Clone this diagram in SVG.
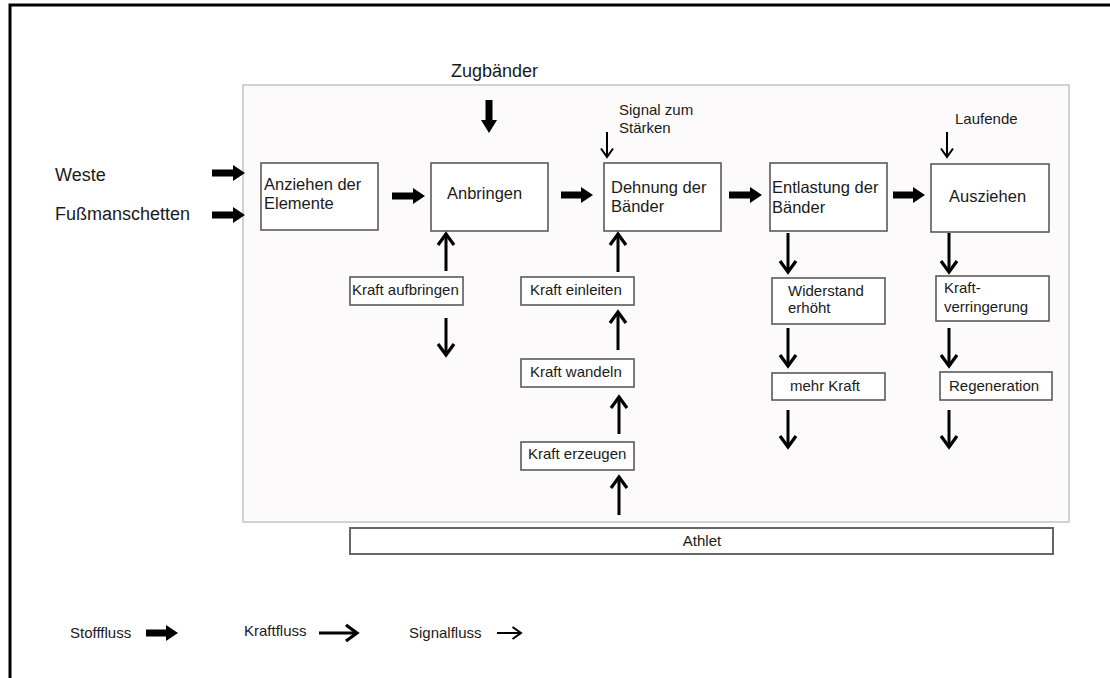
<svg xmlns="http://www.w3.org/2000/svg" width="1110" height="678" viewBox="0 0 1110 678">
<style>
text{font-family:"Liberation Sans",Arial,sans-serif;fill:#1a1a1a}
.big{font-size:18px}
.main{font-size:16.5px}
.sub{font-size:15px}
.box{fill:#fff;stroke:#5a5a5a;stroke-width:1.6}
.stoff{fill:#000}
.kraft{stroke:#000;stroke-width:3;fill:none;marker-end:url(#mk)}
.sig{stroke:#000;stroke-width:2;fill:none;marker-end:url(#ms)}
</style>
<defs>
<marker id="mk" markerUnits="userSpaceOnUse" markerWidth="16" markerHeight="20" viewBox="0 0 16 20" refX="13" refY="10" orient="auto">
<path d="M2,2 L13,10 L2,18" fill="none" stroke="#000" stroke-width="3.2"/>
</marker>
<marker id="ms" markerUnits="userSpaceOnUse" markerWidth="12" markerHeight="16" viewBox="0 0 12 16" refX="10" refY="8" orient="auto">
<path d="M1.5,2 L10,8 L1.5,14" fill="none" stroke="#000" stroke-width="2"/>
</marker>
</defs>
<rect width="1110" height="678" fill="#fff"/>
<path d="M10,678 V5 H1110" fill="none" stroke="#000" stroke-width="3"/>
<rect id="system" x="243" y="85" width="826" height="437" fill="#fcfafa" stroke="#c4c4c4" stroke-width="1.5"/>

<g id="labels">
<text class="big" x="451" y="77">Zugbänder</text>
<text class="big" x="55" y="181">Weste</text>
<text class="big" x="55" y="220">Fußmanschetten</text>
<text class="sub" x="619" y="115">Signal zum</text>
<text class="sub" x="619" y="133">Stärken</text>
<text class="sub" x="955" y="124">Laufende</text>
</g>

<g id="n-anziehen"><rect class="box" x="261" y="163" width="117" height="67"/><text class="main" x="264" y="190">Anziehen der</text><text class="main" x="264" y="209">Elemente</text></g>
<g id="n-anbringen"><rect class="box" x="431" y="163" width="117" height="68"/><text class="main" x="447" y="199">Anbringen</text></g>
<g id="n-dehnung"><rect class="box" x="604" y="163" width="117" height="68"/><text class="main" x="611" y="193">Dehnung der</text><text class="main" x="611" y="212">Bänder</text></g>
<g id="n-entlastung"><rect class="box" x="770" y="163" width="117" height="68"/><text class="main" x="772" y="193">Entlastung der</text><text class="main" x="772" y="213">Bänder</text></g>
<g id="n-ausziehen"><rect class="box" x="931" y="164" width="118" height="68"/><text class="main" x="949" y="202">Ausziehen</text></g>

<g id="n-aufbringen"><rect class="box" x="350" y="277" width="113" height="28"/><text class="sub" x="352" y="295">Kraft aufbringen</text></g>
<g id="n-einleiten"><rect class="box" x="521" y="277" width="113" height="28"/><text class="sub" x="530" y="295">Kraft einleiten</text></g>
<g id="n-wandeln"><rect class="box" x="521" y="359" width="113" height="28"/><text class="sub" x="530" y="377">Kraft wandeln</text></g>
<g id="n-erzeugen"><rect class="box" x="521" y="442" width="113" height="28"/><text class="sub" x="528" y="459">Kraft erzeugen</text></g>
<g id="n-widerstand"><rect class="box" x="772" y="278" width="113" height="46"/><text class="sub" x="788" y="296">Widerstand</text><text class="sub" x="788" y="313">erhöht</text></g>
<g id="n-verringerung"><rect class="box" x="936" y="276" width="113" height="45"/><text class="sub" x="944" y="293">Kraft-</text><text class="sub" x="944" y="312">verringerung</text></g>
<g id="n-mehrkraft"><rect class="box" x="772" y="373" width="113" height="27"/><text class="sub" x="790" y="391">mehr Kraft</text></g>
<g id="n-regeneration"><rect class="box" x="940" y="372" width="112" height="28"/><text class="sub" x="949" y="391">Regeneration</text></g>
<g id="n-athlet"><rect x="350" y="528" width="703" height="26" fill="#fff" stroke="#666" stroke-width="2"/><text class="sub" x="702" y="546" text-anchor="middle">Athlet</text></g>

<g id="connectors">
<path class="stoff" d="M212,169.5 H233 V165 L245,173 L233,181 V176.5 H212 Z"/>
<path class="stoff" d="M212,211.5 H233 V207 L245,215 L233,223 V218.5 H212 Z"/>
<path class="stoff" d="M392,192.5 H413 V188 L425,196 L413,204 V199.5 H392 Z"/>
<path class="stoff" d="M561,191.5 H581 V187 L593,195 L581,203 V198.5 H561 Z"/>
<path class="stoff" d="M729,191.5 H750 V187 L762,195 L750,203 V198.5 H729 Z"/>
<path class="stoff" d="M893,191.5 H913 V187 L925,195 L913,203 V198.5 H893 Z"/>
<path class="stoff" d="M485.5,100 V120 H481 L489,133 L497,120 H492.5 V100 Z"/>
<line class="kraft" x1="446" y1="271" x2="446" y2="234"/>
<line class="kraft" x1="446" y1="318" x2="446" y2="355"/>
<line class="kraft" x1="618" y1="272" x2="618" y2="234"/>
<line class="kraft" x1="618" y1="350" x2="618" y2="312"/>
<line class="kraft" x1="619" y1="434" x2="619" y2="397"/>
<line class="kraft" x1="619" y1="515" x2="619" y2="477"/>
<line class="kraft" x1="788" y1="233" x2="788" y2="272"/>
<line class="kraft" x1="788" y1="328" x2="788" y2="366"/>
<line class="kraft" x1="788" y1="410" x2="788" y2="447"/>
<line class="kraft" x1="949" y1="233" x2="949" y2="272"/>
<line class="kraft" x1="949" y1="328" x2="949" y2="366"/>
<line class="kraft" x1="949" y1="410" x2="949" y2="447"/>
<line class="sig" x1="607" y1="132" x2="607" y2="157"/>
<line class="sig" x1="947" y1="132" x2="947" y2="157"/>
</g>

<g id="legend">
<text class="sub" x="70" y="638">Stofffluss</text>
<path class="stoff" d="M146,629.5 H166 V625 L178,633 L166,641 V636.5 H146 Z"/>
<text class="sub" x="244" y="636">Kraftfluss</text>
<line class="kraft" x1="319" y1="633" x2="357" y2="633"/>
<text class="sub" x="409" y="638">Signalfluss</text>
<line class="sig" x1="497" y1="633" x2="521" y2="633"/>
</g>
</svg>
